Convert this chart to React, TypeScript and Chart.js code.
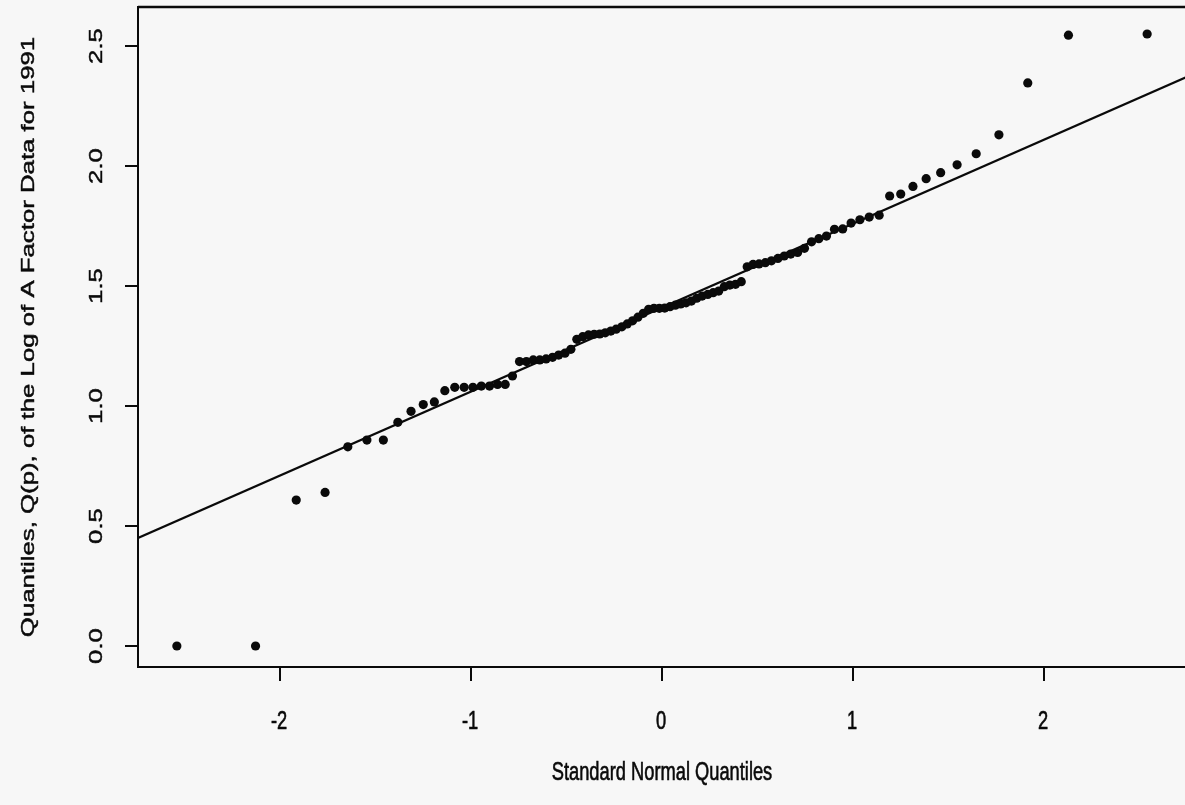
import React, { useEffect, useRef } from "react";
import { Chart, registerables } from "chart.js";

Chart.register(...registerables);

// Standard normal quantiles (x positions)
const normalQuantiles = [
  -2.54, -2.128, -1.915, -1.764, -1.645, -1.545, -1.459, -1.383, -1.314, -1.25,
  -1.192, -1.137, -1.085, -1.036, -0.99, -0.946, -0.903, -0.861, -0.821, -0.783,
  -0.746, -0.71, -0.674, -0.64, -0.607, -0.573, -0.541, -0.508, -0.477, -0.446,
  -0.415, -0.385, -0.355, -0.326, -0.297, -0.268, -0.24, -0.21, -0.182, -0.154,
  -0.126, -0.098, -0.07, -0.042, -0.014, 0.014, 0.042, 0.07, 0.098, 0.126,
  0.154, 0.182, 0.21, 0.24, 0.268, 0.297, 0.326, 0.355, 0.385, 0.415,
  0.446, 0.477, 0.508, 0.541, 0.573, 0.607, 0.64, 0.674, 0.71, 0.746,
  0.783, 0.821, 0.861, 0.903, 0.946, 0.99, 1.036, 1.085, 1.137, 1.192,
  1.25, 1.314, 1.383, 1.459, 1.545, 1.645, 1.764, 1.915, 2.128, 2.54,
];

// Sample quantiles Q(p) of log A factor, 1991
const sampleQuantiles = [
  0.0, 0.0, 0.608, 0.64, 0.83, 0.858, 0.858, 0.932, 0.978, 1.006,
  1.017, 1.064, 1.078, 1.078, 1.078, 1.083, 1.083, 1.09, 1.09, 1.125,
  1.185, 1.185, 1.192, 1.192, 1.196, 1.203, 1.212, 1.22, 1.236, 1.278,
  1.289, 1.296, 1.299, 1.3, 1.305, 1.312, 1.32, 1.33, 1.342, 1.355,
  1.37, 1.386, 1.403, 1.407, 1.407, 1.408, 1.414, 1.42, 1.425, 1.43,
  1.437, 1.449, 1.458, 1.465, 1.472, 1.479, 1.497, 1.504, 1.507, 1.518,
  1.58, 1.59, 1.592, 1.597, 1.605, 1.615, 1.625, 1.633, 1.64, 1.657,
  1.684, 1.697, 1.708, 1.736, 1.738, 1.762, 1.776, 1.787, 1.795, 1.875,
  1.883, 1.915, 1.947, 1.972, 2.005, 2.051, 2.13, 2.346, 2.545, 2.55,
];

// Reference line (qqline) end points
const refLineX = [-2.7435, 2.7435];
const refLineY = [0.45, 2.37];

const xRange = [-2.7435, 2.7435];
const yRange = [-0.0875, 2.6625];

const xTicks = [-2, -1, 0, 1, 2];
const xTickLabels = ["-2", "-1", "0", "1", "2"];
const yTicks = [0, 0.5, 1, 1.5, 2, 2.5];
const yTickLabels = ["0.0", "0.5", "1.0", "1.5", "2.0", "2.5"];

const xTitle = "Standard Normal Quantiles";
const yTitle = "Quantiles, Q(p), of the Log of A Factor Data for 1991";

const BG = "#f7f7f7";
const INK = "#0a0a0a";
const FONT = '18.3px "Liberation Sans", Arial, sans-serif';
const STRETCH = 1.41;

function inkText(ctx: any, s: string) {
  ctx.fillText(s, 0, 0);
  ctx.strokeText(s, 0, 0);
}

const axesPlugin = {
  id: "rAxes",
  afterDraw(chart: any) {
    const { ctx, chartArea } = chart;
    const xs = chart.scales.x;
    const ys = chart.scales.y;
    const { left, right, top, bottom } = chartArea;
    ctx.save();
    ctx.strokeStyle = INK;
    ctx.fillStyle = INK;
    ctx.lineWidth = 2;
    ctx.strokeRect(left, top, right - left, bottom - top);
    ctx.lineWidth = 2.6;
    ctx.beginPath();
    ctx.moveTo(left, top);
    ctx.lineTo(right, top);
    ctx.stroke();

    // ticks
    ctx.lineWidth = 2;
    ctx.beginPath();
    xTicks.forEach((v) => {
      const px = Math.round(xs.getPixelForValue(v));
      ctx.moveTo(px, bottom);
      ctx.lineTo(px, bottom + 14);
    });
    yTicks.forEach((v) => {
      const py = Math.round(ys.getPixelForValue(v));
      ctx.moveTo(left, py);
      ctx.lineTo(left - 13, py);
    });
    ctx.stroke();

    ctx.font = FONT;
    ctx.textAlign = "center";
    ctx.textBaseline = "middle";
    ctx.lineWidth = 0.45;

    // x tick labels
    xTicks.forEach((v, i) => {
      const px = xs.getPixelForValue(v);
      ctx.save();
      ctx.translate(px - 1, 722);
      ctx.scale(1, STRETCH);
      inkText(ctx, xTickLabels[i]);
      ctx.restore();
    });

    // y tick labels (rotated)
    yTicks.forEach((v, i) => {
      const py = ys.getPixelForValue(v);
      ctx.save();
      ctx.translate(97, py);
      ctx.rotate(-Math.PI / 2);
      ctx.scale(STRETCH, 1);
      inkText(ctx, yTickLabels[i]);
      ctx.restore();
    });

    // x title
    ctx.save();
    ctx.translate((left + right) / 2, 773);
    ctx.scale(1, STRETCH);
    inkText(ctx, xTitle);
    ctx.restore();

    // y title
    ctx.save();
    ctx.translate(29, (top + bottom) / 2);
    ctx.rotate(-Math.PI / 2);
    ctx.scale(STRETCH, 1);
    inkText(ctx, yTitle);
    ctx.restore();

    ctx.restore();
  },
};

export default function App() {
  const canvasRef = useRef<HTMLCanvasElement | null>(null);

  useEffect(() => {
    document.body.style.margin = "0";
    document.body.style.background = BG;
    const canvas = canvasRef.current;
    if (!canvas) return;

    const points = normalQuantiles.map((x, i) => ({ x, y: sampleQuantiles[i] }));
    const line = refLineX.map((x, i) => ({ x, y: refLineY[i] }));

    const chart = new Chart(canvas, {
      type: "scatter",
      data: {
        datasets: [
          {
            label: "Reference line",
            data: line,
            showLine: true,
            borderColor: INK,
            borderWidth: 2.2,
            pointRadius: 0,
            fill: false,
          } as any,
          {
            label: "Q(p)",
            data: points,
            backgroundColor: INK,
            borderWidth: 0,
            pointRadius: 4.6,
            pointHoverRadius: 4.6,
          },
        ],
      },
      options: {
        responsive: false,
        animation: false,
        events: [],
        layout: { padding: { left: 138, top: 7, right: 6, bottom: 138 } },
        scales: {
          x: { type: "linear", min: xRange[0], max: xRange[1], display: false },
          y: { type: "linear", min: yRange[0], max: yRange[1], display: false },
        },
        plugins: {
          legend: { display: false },
          tooltip: { enabled: false },
        },
      },
      plugins: [axesPlugin],
    });
    return () => chart.destroy();
  }, []);

  return (
    <div style={{ width: 1185, height: 805, overflow: "hidden", background: BG, position: "relative" }}>
      <canvas ref={canvasRef} width={1192} height={805} style={{ display: "block" }} />
    </div>
  );
}
